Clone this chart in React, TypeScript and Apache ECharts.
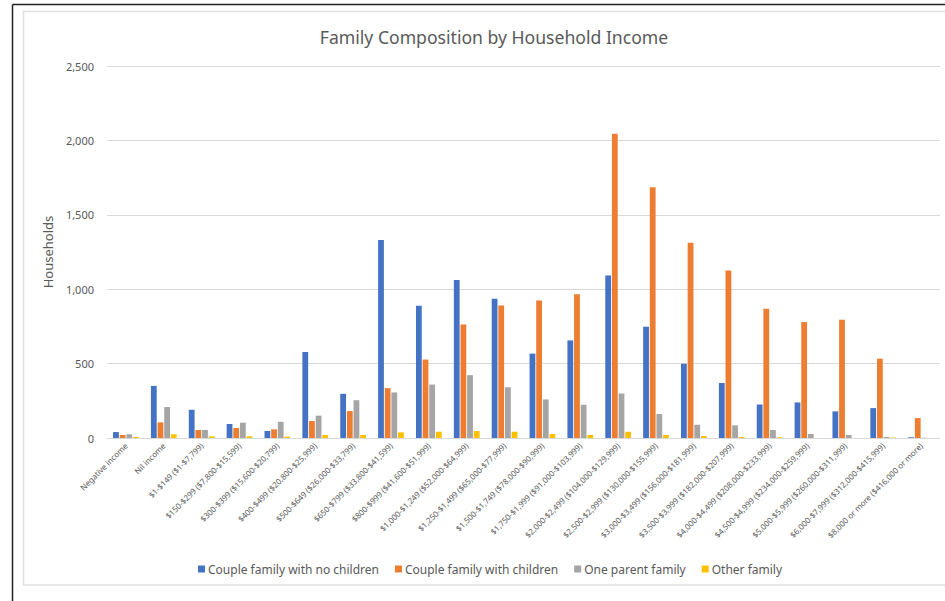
import React, { useEffect, useRef } from "react";
import * as echarts from "echarts";

const categories = [
  "Negative income",
  "Nil income",
  "$1-$149 ($1-$7,799)",
  "$150-$299 ($7,800-$15,599)",
  "$300-$399 ($15,600-$20,799)",
  "$400-$499 ($20,800-$25,999)",
  "$500-$649 ($26,000-$33,799)",
  "$650-$799 ($33,800-$41,599)",
  "$800-$999 ($41,600-$51,999)",
  "$1,000-$1,249 ($52,000-$64,999)",
  "$1,250-$1,499 ($65,000-$77,999)",
  "$1,500-$1,749 ($78,000-$90,999)",
  "$1,750-$1,999 ($91,000-$103,999)",
  "$2,000-$2,499 ($104,000-$129,999)",
  "$2,500-$2,999 ($130,000-$155,999)",
  "$3,000-$3,499 ($156,000-$181,999)",
  "$3,500-$3,999 ($182,000-$207,999)",
  "$4,000-$4,499 ($208,000-$233,999)",
  "$4,500-$4,999 ($234,000-$259,999)",
  "$5,000-$5,999 ($260,000-$311,999)",
  "$6,000-$7,999 ($312,000-$415,999)",
  "$8,000 or more ($416,000 or more)",
];

const coupleNoChildren = [40, 350, 190, 94, 47, 578, 297, 1330, 888, 1062, 935, 567, 656, 1092, 748, 499, 370, 225, 239, 179, 201, 5];
const coupleWithChildren = [20, 105, 54, 67, 58, 114, 181, 335, 527, 763, 891, 924, 966, 2045, 1685, 1312, 1126, 868, 779, 795, 533, 134];
const oneParent = [25, 208, 54, 103, 109, 150, 254, 306, 359, 422, 341, 259, 223, 299, 161, 89, 85, 54, 27, 20, 7, 2];
const otherFamily = [7, 25, 11, 11, 9, 20, 20, 38, 42, 47, 42, 27, 20, 42, 20, 13, 7, 5, 0, 0, 3, 0];

const seriesNames = [
  "Couple family with no children",
  "Couple family with children",
  "One parent family",
  "Other family",
];
const seriesColors = ["#4472C4", "#ED7D31", "#A5A5A5", "#FFC000"];
const yTicks = [0, 500, 1000, 1500, 2000, 2500];

const FONT = "'Noto Sans', 'Open Sans', sans-serif";
const TEXT = "#595959";

export default function App() {
  const ref = useRef<HTMLDivElement>(null);
  useEffect(() => {
    if (!ref.current) return;
    const chart = echarts.init(ref.current, undefined, { renderer: "svg" });
    const data = [coupleNoChildren, coupleWithChildren, oneParent, otherFamily];
    chart.setOption({
      animation: false,
      backgroundColor: "#ffffff",
      textStyle: { fontFamily: FONT },
      title: {
        text: "Family Composition by Household Income",
        left: 489,
        textAlign: "center",
        top: 23,
        textStyle: { fontFamily: FONT, fontSize: 17.6, fontWeight: "normal", color: TEXT },
      },
      legend: {
        left: 193,
        top: 558,
        itemWidth: 7,
        itemHeight: 7,
        itemGap: 16,
        icon: "rect",
        textStyle: { fontFamily: FONT, fontSize: 12, color: TEXT, padding: [0, 0, 0, -2] },
        data: seriesNames,
      },
      grid: { left: 107, right: 5, top: 66, bottom: 163, containLabel: false },
      xAxis: {
        type: "category",
        data: categories,
        axisLine: { lineStyle: { color: "#d9d9d9", width: 1 } },
        axisTick: { show: false },
        axisLabel: {
          interval: 0,
          rotate: 45,
          fontSize: 8,
          color: TEXT,
          fontFamily: FONT,
          margin: 6,
        },
      },
      yAxis: {
        type: "value",
        min: yTicks[0],
        max: yTicks[yTicks.length - 1],
        interval: 500,
        name: "Households",
        nameLocation: "middle",
        nameGap: 46,
        nameTextStyle: { fontFamily: FONT, fontSize: 13, color: TEXT },
        axisLine: { show: false },
        axisTick: { show: false },
        splitLine: { lineStyle: { color: "#d9d9d9", width: 1 } },
        axisLabel: {
          fontSize: 11,
          color: TEXT,
          fontFamily: FONT,
          margin: 13,
          formatter: (v: number) => v.toLocaleString("en-US"),
        },
      },
      series: seriesNames.map((name, i) => ({
        name,
        type: "bar",
        data: data[i],
        barGap: "15%",
        barCategoryGap: "32%",
        itemStyle: { color: seriesColors[i] },
      })),
      graphic: [
        {
          type: "rect",
          shape: { x: 23.5, y: 11.5, width: 930, height: 573.5 },
          style: { fill: "none", stroke: "#e0e0e0", lineWidth: 1.5 },
          silent: true,
        },
        {
          type: "line",
          shape: { x1: 12.5, y1: 4.5, x2: 950, y2: 4.5 },
          style: { stroke: "#222222", lineWidth: 1.5 },
          silent: true,
        },
        {
          type: "line",
          shape: { x1: 12.5, y1: 4.5, x2: 12.5, y2: 605 },
          style: { stroke: "#222222", lineWidth: 1.5 },
          silent: true,
        },
      ],
    });
    return () => chart.dispose();
  }, []);
  return (
    <div
      ref={ref}
      style={{ position: "fixed", left: 0, top: 0, width: 945, height: 601 }}
    />
  );
}
